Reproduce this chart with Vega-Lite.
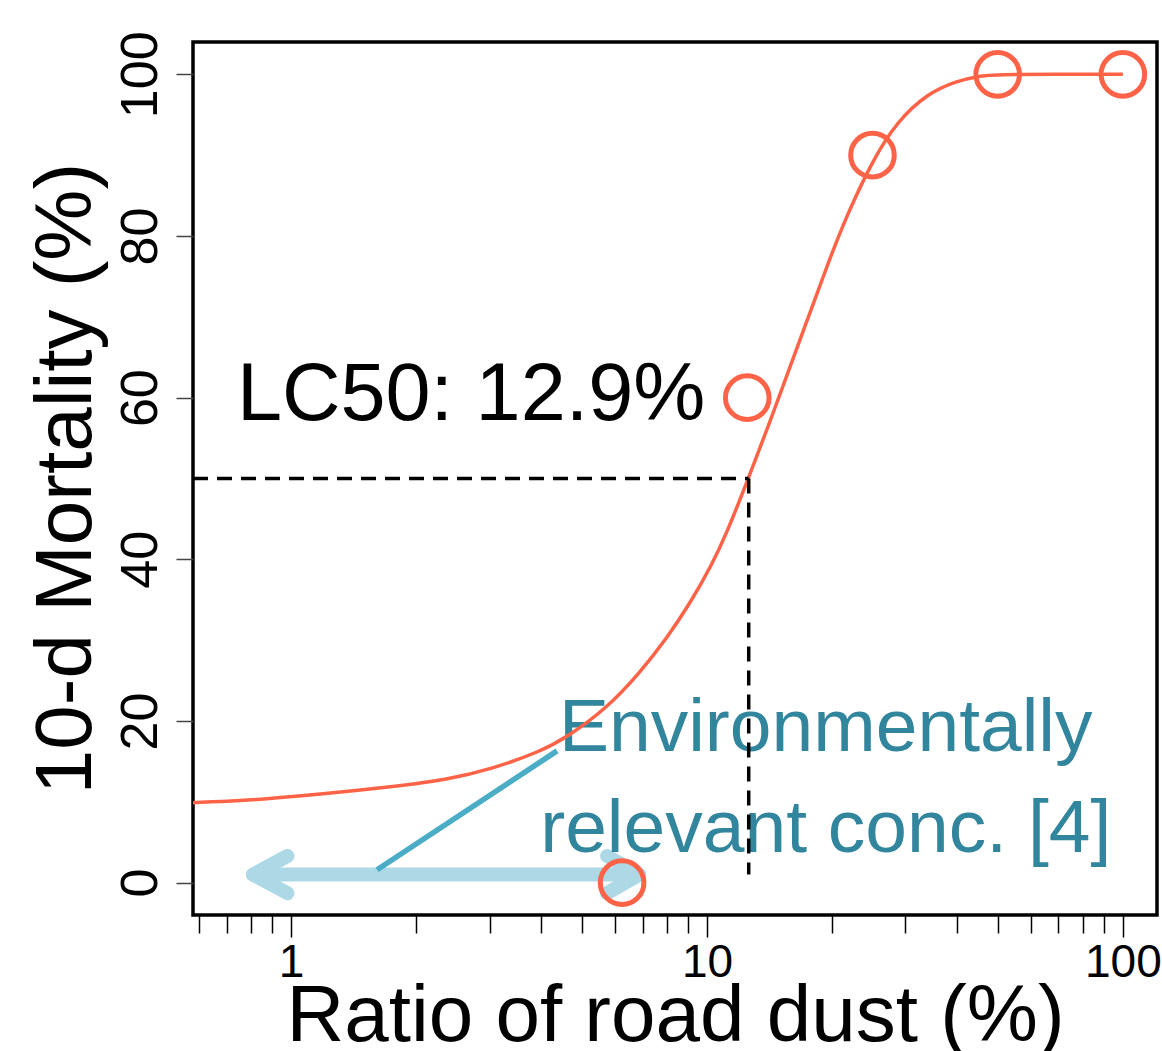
{
  "$schema": "https://vega.github.io/schema/vega-lite/v6.json",
  "width": 964,
  "height": 873,
  "autosize": {"type": "none"},
  "padding": {"left": 193, "top": 42, "right": 5, "bottom": 136},
  "background": "white",
  "config": {
    "view": {"stroke": "#000000", "strokeWidth": 3.5},
    "font": "Liberation Sans"
  },
  "datasets": {
    "curve": [
      {"x": 0.581, "y": 9.9}, {"x": 0.75, "y": 10.1}, {"x": 1.0, "y": 10.6}, {"x": 1.73, "y": 11.8},
      {"x": 2.4, "y": 12.8}, {"x": 3.01, "y": 14.0}, {"x": 3.97, "y": 16.2}, {"x": 4.61, "y": 18.0},
      {"x": 5.75, "y": 21.6}, {"x": 6.9, "y": 26.0}, {"x": 8.0, "y": 30.2}, {"x": 9.11, "y": 34.6}, {"x": 10.2, "y": 39.0},
      {"x": 11.17, "y": 43.3}, {"x": 12.55, "y": 49.9}, {"x": 14.0, "y": 56.3}, {"x": 15.5, "y": 62.5},
      {"x": 17.4, "y": 69.5}, {"x": 19.5, "y": 76.5}, {"x": 21.7, "y": 82.6}, {"x": 25.1, "y": 89.5},
      {"x": 28.6, "y": 94.1}, {"x": 33.8, "y": 97.6}, {"x": 39.9, "y": 99.2}, {"x": 45.4, "y": 99.8},
      {"x": 50, "y": 100}, {"x": 100, "y": 100}
    ],
    "obs": [
      {"x": 6.25, "y": 0}, {"x": 12.5, "y": 60}, {"x": 25, "y": 90}, {"x": 50, "y": 100}, {"x": 100, "y": 100}
    ],
    "dash": [
      {"seg": "h", "o": 1, "x": 0.581, "y": 50}, {"seg": "h", "o": 2, "x": 12.6, "y": 50},
      {"seg": "v", "o": 1, "x": 12.6, "y": 50}, {"seg": "v", "o": 2, "x": 12.6, "y": 1}
    ],
    "arrow": [
      {"seg": "shaft", "o": 1, "x": 0.81, "y": 1.0}, {"seg": "shaft", "o": 2, "x": 6.87, "y": 1.0},
      {"seg": "left", "o": 1, "x": 0.98, "y": 3.3}, {"seg": "left", "o": 2, "x": 0.81, "y": 1.0}, {"seg": "left", "o": 3, "x": 0.98, "y": -1.3},
      {"seg": "right", "o": 1, "x": 5.75, "y": 3.3}, {"seg": "right", "o": 2, "x": 6.87, "y": 1.0}, {"seg": "right", "o": 3, "x": 5.75, "y": -1.3}
    ],
    "pointer": [
      {"o": 1, "x": 1.61, "y": 1.6}, {"o": 2, "x": 4.36, "y": 16.3}
    ],
    "envtext": [
      {"label": "Environmentally", "x": 19.3, "y": 16.3},
      {"label": "relevant conc. [4]", "x": 19.3, "y": 3.8}
    ],
    "lctext": [
      {"label": "LC50: 12.9%", "x": 0.741, "y": 57.2}
    ]
  },
  "encoding": {
    "x": {
      "field": "x", "type": "quantitative",
      "scale": {"type": "log", "domain": [0.581, 120.8], "nice": false, "zero": false},
      "axis": {
        "title": "Ratio of road dust (%)",
        "values": [0.6, 0.7, 0.8, 0.9, 1, 2, 3, 4, 5, 6, 7, 8, 9, 10, 20, 30, 40, 50, 60, 70, 80, 90, 100],
        "labelExpr": "datum.value == 1 ? '1' : datum.value == 10 ? '10' : datum.value == 100 ? '100' : ''",
        "labelOverlap": false, "labelFlush": false, "labelBound": false,
        "grid": false, "domain": false,
        "tickColor": "#000000", "tickWidth": 1.5,
        "tickSize": {"condition": {"test": "datum.value == 1 || datum.value == 10 || datum.value == 100", "value": 22}, "value": 18},
        "labelFontSize": 46, "labelColor": "#000000", "labelPadding": 3,
        "labelFont": "Liberation Sans",
        "titleFontSize": 80, "titleFontWeight": "normal", "titleColor": "#000000",
        "titleFont": "Liberation Sans",
        "titleX": 482, "titleY": 125, "titleBaseline": "alphabetic", "titleAlign": "center"
      }
    },
    "y": {
      "field": "y", "type": "quantitative",
      "scale": {"domain": [-4, 104], "nice": false, "zero": false},
      "axis": {
        "title": "10-d Mortality (%)",
        "values": [0, 20, 40, 60, 80, 100],
        "grid": false, "domain": false,
        "tickColor": "#444444", "tickWidth": 1.5, "tickSize": 17,
        "labelAngle": 270, "labelAlign": "center", "labelBaseline": "bottom",
        "labelFontSize": 52, "labelColor": "#000000", "labelPadding": 9,
        "labelFont": "Liberation Sans",
        "titleFontSize": 80, "titleFontWeight": "normal", "titleColor": "#000000",
        "titleFont": "Liberation Sans",
        "titleAngle": 270, "titleX": -103, "titleY": 436, "titleBaseline": "alphabetic", "titleAlign": "center"
      }
    }
  },
  "layer": [
    {
      "data": {"name": "arrow"},
      "mark": {"type": "line", "color": "#ADD8E6", "strokeWidth": 14, "strokeCap": "round", "strokeJoin": "round", "clip": true},
      "encoding": {"detail": {"field": "seg"}, "order": {"field": "o"}}
    },
    {
      "data": {"name": "pointer"},
      "mark": {"type": "line", "color": "#4BACC6", "strokeWidth": 5.5, "clip": true},
      "encoding": {"order": {"field": "o"}}
    },
    {
      "data": {"name": "envtext"},
      "mark": {"type": "text", "color": "#31859C", "fontSize": 75, "align": "center", "baseline": "alphabetic", "font": "Liberation Sans"},
      "encoding": {"text": {"field": "label"}}
    },
    {
      "data": {"name": "curve"},
      "mark": {"type": "line", "color": "#FF6347", "strokeWidth": 3.5, "interpolate": "basis", "clip": true},
      "encoding": {"order": {"field": "x"}}
    },
    {
      "data": {"name": "dash"},
      "mark": {"type": "line", "color": "#000000", "strokeWidth": 3.5, "strokeDash": [15, 9], "clip": true},
      "encoding": {"detail": {"field": "seg"}, "order": {"field": "o"}}
    },
    {
      "data": {"name": "obs"},
      "mark": {"type": "point", "shape": "circle", "filled": false, "color": "#FF6347", "strokeWidth": 5, "size": 1900, "opacity": 1}
    },
    {
      "data": {"name": "lctext"},
      "mark": {"type": "text", "color": "#000000", "fontSize": 81, "align": "left", "baseline": "alphabetic", "font": "Liberation Sans"},
      "encoding": {"text": {"field": "label"}}
    }
  ]
}
